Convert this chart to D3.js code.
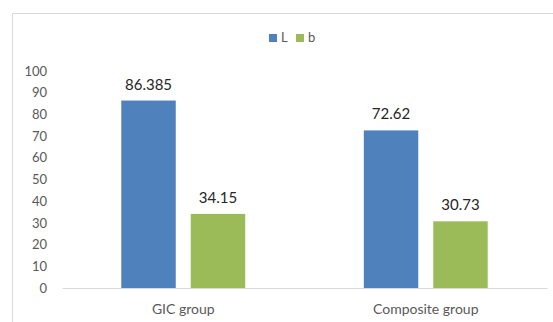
<!DOCTYPE html>
<html>
<head>
<meta charset="utf-8">
<script src="https://cdn.jsdelivr.net/npm/d3@7"></script>
<style>
  body { margin: 0; background: #fff; }
  svg { display: block; font-family: Lato, "Open Sans", sans-serif; }
</style>
</head>
<body>
<div id="chart"></div>
<script>
// data
let categories = ["GIC group", "Composite group"];
let seriesNames = ["L", "b"];
let seriesL = [86.385, 72.62];
let seriesB = [34.15, 30.73];
let yTicks = [0, 10, 20, 30, 40, 50, 60, 70, 80, 90, 100];

let colors = { L: "#4f81bd", b: "#9bbb59" };

// svg area
let svgWidth = 553;
let svgHeight = 322;

let chartMargin = { top: 71, right: 6, bottom: 34, left: 62 };
let chartWidth = svgWidth - chartMargin.left - chartMargin.right;
let chartHeight = svgHeight - chartMargin.top - chartMargin.bottom;

let svg = d3.select("#chart")
  .append("svg")
  .attr("width", svgWidth)
  .attr("height", svgHeight);

// outer chart frame (only top and left edges show)
svg.append("rect")
  .attr("x", 12.5)
  .attr("y", 13.5)
  .attr("width", 700)
  .attr("height", 500)
  .attr("fill", "none")
  .attr("stroke", "#d9d9d9");

let chartGroup = svg.append("g")
  .attr("transform", `translate(${chartMargin.left}, ${chartMargin.top})`);

// build rows for the grouped bars
let rows = categories.map((c, i) => ({ category: c, L: seriesL[i], b: seriesB[i] }));

let x0 = d3.scaleBand()
  .domain(categories)
  .range([0, chartWidth])
  .paddingInner(0.489)
  .paddingOuter(0.2445);

let x1 = d3.scaleBand()
  .domain(seriesNames)
  .range([0, x0.bandwidth()])
  .paddingInner(0.216);

let yScale = d3.scaleLinear()
  .domain([0, 100])
  .range([chartHeight, 0]);

// y axis labels, no line
let leftAxis = d3.axisLeft(yScale).tickValues(yTicks).tickSize(0).tickPadding(15);
let yAxisG = chartGroup.append("g").call(leftAxis);
yAxisG.select(".domain").remove();
yAxisG.selectAll("text")
  .attr("font-family", "Lato, sans-serif")
  .attr("font-size", 13)
  .attr("fill", "#595959");

// bars
let groups = chartGroup.append("g")
  .selectAll("g")
  .data(rows)
  .enter()
  .append("g")
  .attr("transform", d => `translate(${x0(d.category)}, 0)`);

groups.selectAll("rect")
  .data(d => seriesNames.map(k => ({ key: k, value: d[k] })))
  .enter()
  .append("rect")
  .attr("x", d => x1(d.key))
  .attr("y", d => yScale(d.value))
  .attr("width", x1.bandwidth())
  .attr("height", d => chartHeight - yScale(d.value))
  .attr("fill", d => colors[d.key]);

groups.selectAll("text")
  .data(d => seriesNames.map(k => ({ key: k, value: d[k] })))
  .enter()
  .append("text")
  .attr("x", d => x1(d.key) + x1.bandwidth() / 2)
  .attr("y", d => yScale(d.value) - 11)
  .attr("text-anchor", "middle")
  .attr("font-size", 15)
  .attr("fill", "#262626")
  .text(d => d.value);

// x axis
let bottomAxis = d3.axisBottom(x0).tickSize(0).tickPadding(16);
let xAxisG = chartGroup.append("g")
  .attr("transform", `translate(0, ${chartHeight})`)
  .call(bottomAxis);
xAxisG.select(".domain").attr("stroke", "#d9d9d9");
xAxisG.selectAll("text")
  .attr("font-family", "Lato, sans-serif")
  .attr("font-size", 14)
  .attr("fill", "#595959");

// legend
let legend = svg.append("g")
  .attr("transform", "translate(269, 34)");

let legendItems = legend.selectAll("g")
  .data(seriesNames)
  .enter()
  .append("g")
  .attr("transform", (d, i) => `translate(${i * 27}, 0)`);

legendItems.append("rect")
  .attr("width", 8)
  .attr("height", 8)
  .attr("fill", d => colors[d]);

legendItems.append("text")
  .attr("x", 12)
  .attr("y", 8)
  .attr("font-size", 13)
  .attr("fill", "#595959")
  .text(d => d);
</script>
</body>
</html>
